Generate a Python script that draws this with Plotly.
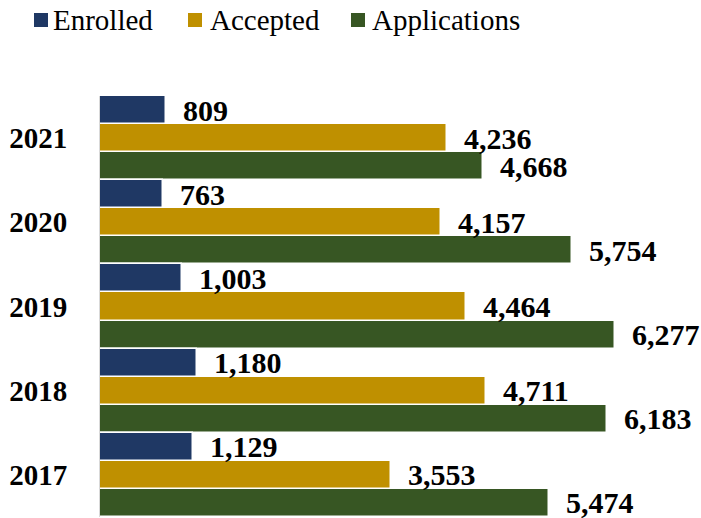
import plotly.graph_objects as go

years = ["2017", "2018", "2019", "2020", "2021"]
enrolled = [1129, 1180, 1003, 763, 809]
accepted = [3553, 4711, 4464, 4157, 4236]
applications = [5474, 6183, 6277, 5754, 4668]

legend_names = ["Enrolled", "Accepted", "Applications"]
colors = {"Enrolled": "#1F3864", "Accepted": "#BF9000", "Applications": "#375623"}

BAR_PX = 28
series = [
    ("Applications", applications, -BAR_PX),
    ("Accepted", accepted, 0),
    ("Enrolled", enrolled, BAR_PX),
]

FONT = "Liberation Serif, Times New Roman, serif"

fig = go.Figure()
annotations = []
for name, vals, shift in series:
    fig.add_trace(go.Bar(
        y=years, x=vals, name=name, orientation="h",
        marker=dict(color=colors[name], line=dict(color="white", width=1.5)),
        hoverinfo="x+name", showlegend=False,
    ))
    for i, v in enumerate(vals):
        annotations.append(dict(
            x=v, y=i, xref="x", yref="y", text=f"<b>{v:,}</b>",
            showarrow=False, xanchor="left", yanchor="middle",
            xshift=15, yshift=shift,
            font=dict(family=FONT, size=30, color="black"),
        ))

# manual legend (pixel offsets from plot-area top-left)
sq_left = [-66, 88, 251]
txt_left = [-49, 108, 270]
shapes = []
for name, sx, tx in zip(legend_names, sq_left, txt_left):
    shapes.append(dict(
        type="rect", xref="paper", yref="paper",
        xsizemode="pixel", ysizemode="pixel", xanchor=0, yanchor=1,
        x0=sx, x1=sx + 14, y0=69, y1=83,
        fillcolor=colors[name], line=dict(width=0),
    ))
    annotations.append(dict(
        x=0, y=1, xref="paper", yref="paper", text=name,
        showarrow=False, xanchor="left", yanchor="middle",
        xshift=tx, yshift=76,
        font=dict(family=FONT, size=29, color="black"),
    ))

fig.update_layout(
    template="none",
    width=701, height=518,
    margin=dict(l=100, r=1, t=96, b=1, autoexpand=False),
    paper_bgcolor="white", plot_bgcolor="white",
    barmode="group", bargap=0.0, bargroupgap=0.0,
    annotations=annotations, shapes=shapes,
    showlegend=False,
    xaxis=dict(range=[0, 7320], visible=False, showgrid=False, zeroline=False),
    yaxis=dict(
        type="category", automargin=False,
        showline=True, linecolor="#d9d9d9", linewidth=1,
        showgrid=False, ticks="", ticklabelstandoff=26,
        tickfont=dict(family=FONT, size=29, color="black", weight="bold"),
        range=[-0.5, 4.5],
    ),
)

fig.write_html(
    "out.html",
    config={"displayModeBar": False},
    post_script="document.body.style.margin='0';document.body.style.overflow='hidden';",
)
